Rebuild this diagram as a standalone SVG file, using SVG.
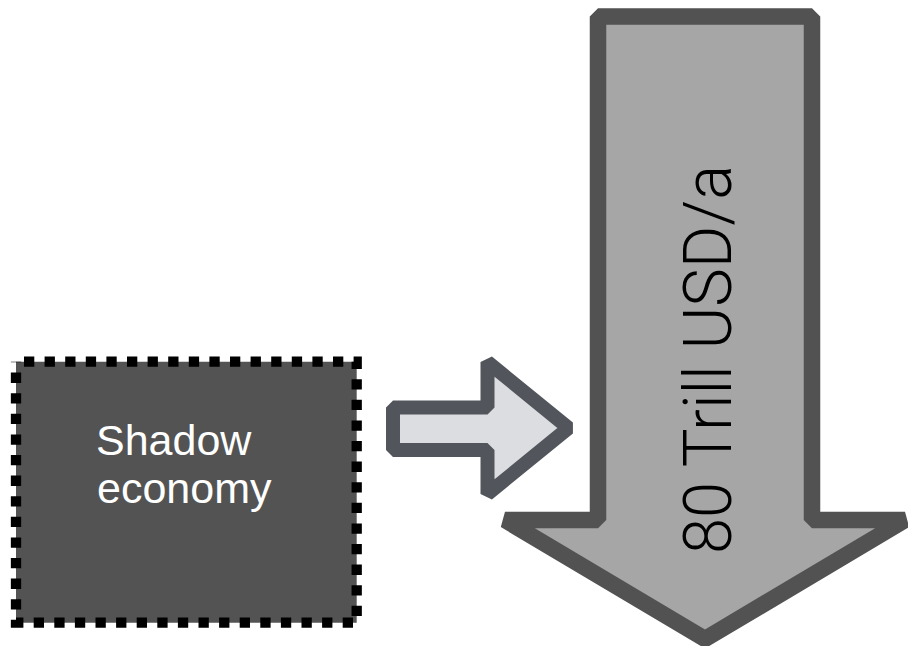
<svg xmlns="http://www.w3.org/2000/svg" width="908" height="648" viewBox="0 0 908 648">
  <style>
    .box { fill: #535353; stroke: #000000; stroke-width: 10.3; stroke-dasharray: 10.3 10.3; stroke-dashoffset: 12.6; }
    .box-label { font-family: "Liberation Sans", Arial, sans-serif; font-size: 43px; fill: #ffffff; }
    .flow { fill: #a6a6a6; stroke: #525252; stroke-width: 16.5; stroke-linejoin: bevel; }
    .flow-label { font-family: Roboto, "Liberation Sans", sans-serif; font-weight: 300; font-size: 66px; fill: #000000; }
    .link { fill: #dcdde0; stroke: #52565c; stroke-width: 14; stroke-linejoin: bevel; }
  </style>
  <rect width="908" height="648" fill="#ffffff"/>

  <!-- large downward flow arrow -->
  <g id="flow-total">
    <path class="flow" d="M598,16.5 L812,16.5 L812,520 L905,520 L705,639 L505,520 L598,520 Z"/>
    <text class="flow-label" transform="translate(731,554) rotate(-90)" x="0" y="0" textLength="389" lengthAdjust="spacingAndGlyphs">80 Trill USD/a</text>
  </g>

  <!-- dashed source box -->
  <g id="shadow-economy">
    <path class="box" d="M16,361.7 H356.7 V622.7 H16 Z"/>
    <text class="box-label" x="96" y="455">Shadow</text>
    <text class="box-label" x="97" y="503">economy</text>
  </g>

  <!-- block arrow feeding into the flow -->
  <g id="connectors">
    <path class="link" d="M393,407.5 L487.5,407.5 L487.5,362 L568.5,428 L487.5,494 L487.5,450 L393,450 Z"/>
  </g>
</svg>
